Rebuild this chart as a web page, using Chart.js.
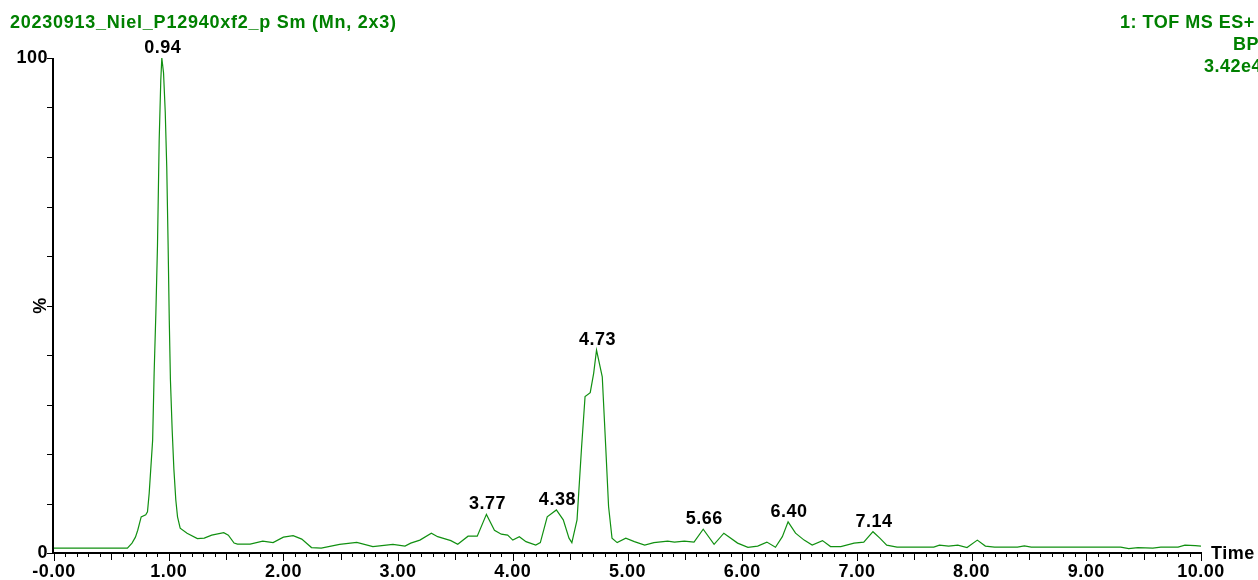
<!DOCTYPE html>
<html>
<head>
<meta charset="utf-8">
<script src="https://cdn.jsdelivr.net/npm/chart.js@4/dist/chart.umd.min.js"></script>
<style>
  html, body { margin: 0; padding: 0; background: #ffffff; }
  #wrap { width: 1258px; height: 580px; }
</style>
</head>
<body>
<div id="wrap"><canvas id="tic" width="1258" height="580"></canvas></div>
<script>
// Retention time (min) of the base-peak chromatogram trace
const retentionTimes = [
  0.00, 0.60, 0.64, 0.68, 0.71, 0.73, 0.76, 0.80, 0.815, 0.83,
  0.86, 0.873, 0.888, 0.902, 0.917, 0.931, 0.94, 0.955, 0.97, 0.983,
  0.995, 1.005, 1.015, 1.03, 1.045, 1.062, 1.077, 1.10, 1.16, 1.25,
  1.31, 1.375, 1.48, 1.52, 1.57, 1.60, 1.71, 1.82, 1.91, 2.00,
  2.085, 2.16, 2.245, 2.33, 2.49, 2.64, 2.78, 2.955, 3.06, 3.11,
  3.19, 3.29, 3.345, 3.46, 3.52, 3.61, 3.69, 3.77, 3.84, 3.90,
  3.955, 4.00, 4.057, 4.115, 4.20, 4.24, 4.30, 4.38, 4.44, 4.49,
  4.515, 4.56, 4.60, 4.63, 4.675, 4.705, 4.73, 4.78, 4.81, 4.835,
  4.865, 4.91, 4.985, 5.06, 5.15, 5.23, 5.35, 5.41, 5.495, 5.58,
  5.66, 5.755, 5.84, 5.96, 6.05, 6.135, 6.215, 6.29, 6.35, 6.40,
  6.465, 6.54, 6.61, 6.70, 6.77, 6.86, 6.975, 7.06, 7.14, 7.20,
  7.26, 7.35, 7.67, 7.72, 7.80, 7.88, 7.96, 8.05, 8.12, 8.20,
  8.40, 8.46, 8.52, 9.30, 9.37, 9.45, 9.58, 9.65, 9.80, 9.86,
  9.95, 10.00
];

// Relative intensity (%) at each retention time
const relIntensity = [
  1.0, 1.0, 1.0, 2.0, 3.2, 4.6, 7.3, 7.7, 8.3, 12.1,
  22.8, 36.3, 48.4, 61.9, 83.4, 95.5, 100, 97.0, 89.0, 78.0,
  62.0, 47.0, 35.0, 25.0, 17.0, 10.7, 7.3, 5.0, 4.0, 2.9,
  3.0, 3.6, 4.1, 3.6, 2.0, 1.8, 1.8, 2.4, 2.1, 3.2,
  3.5, 2.8, 1.1, 1.0, 1.75, 2.15, 1.3, 1.75, 1.4, 2.0,
  2.6, 4.0, 3.3, 2.5, 1.75, 3.4, 3.4, 7.8, 4.6, 3.8,
  3.6, 2.6, 3.3, 2.3, 1.6, 2.1, 7.3, 8.7, 6.7, 3.0,
  2.1, 6.7, 21.5, 31.6, 32.4, 36.3, 41.0, 35.6, 21.5, 9.4,
  3.0, 2.1, 3.0, 2.3, 1.6, 2.1, 2.4, 2.2, 2.4, 2.2,
  4.8, 1.75, 4.0, 2.0, 1.15, 1.4, 2.2, 1.15, 3.3, 6.3,
  4.0, 2.6, 1.6, 2.5, 1.3, 1.3, 2.0, 2.2, 4.3, 3.0,
  1.6, 1.2, 1.2, 1.6, 1.4, 1.6, 1.1, 2.6, 1.4, 1.2,
  1.2, 1.45, 1.2, 1.2, 0.9, 1.1, 1.0, 1.2, 1.2, 1.6,
  1.5, 1.4
];

// Annotated peak apexes (min)
const peakTimes = [0.94, 3.77, 4.38, 4.73, 5.66, 6.40, 7.14];

// Axis tick values and labels
const xTickValues = [0, 1, 2, 3, 4, 5, 6, 7, 8, 9, 10];
const xTickLabels = ['-0.00', '1.00', '2.00', '3.00', '4.00', '5.00', '6.00', '7.00', '8.00', '9.00', '10.00'];
const yTickValues = [0, 100];
const yTickLabels = ['0', '100'];
const yAxisTitle = '%';
const xAxisTitle = 'Time';

// Header texts
const headerLeft = '20230913_Niel_P12940xf2_p Sm (Mn, 2x3)';
const headerRight = ['1: TOF MS ES+', 'BPI', '3.42e4'];

const GREEN = '#008000';
const TRACE = '#119011';
const FONT = 'bold 18px "Liberation Sans", Arial, sans-serif';

function setText(ctx, color, spacing) {
  ctx.font = FONT;
  ctx.fillStyle = color;
  if ('letterSpacing' in ctx) ctx.letterSpacing = spacing || '0.5px';
}

const background = {
  id: 'background',
  beforeDraw(chart) {
    const ctx = chart.ctx;
    ctx.save();
    ctx.fillStyle = '#ffffff';
    ctx.fillRect(0, 0, chart.width, chart.height);
    ctx.restore();
  }
};

const axes = {
  id: 'axes',
  afterDraw(chart) {
    const ctx = chart.ctx;
    const xs = chart.scales.x, ys = chart.scales.y;
    const x0 = xs.getPixelForValue(0) - 1;
    const y0 = ys.getPixelForValue(0);
    const yTop = ys.getPixelForValue(100);
    const xEnd = xs.getPixelForValue(10);
    ctx.save();
    ctx.strokeStyle = '#000000';

    // axis lines
    ctx.lineWidth = 2;
    ctx.beginPath();
    ctx.moveTo(x0, yTop);
    ctx.lineTo(x0, y0 + 1);
    ctx.moveTo(x0 - 1, y0);
    ctx.lineTo(xEnd + 1, y0);
    ctx.stroke();

    // y ticks every 10 %
    ctx.lineWidth = 1;
    ctx.beginPath();
    for (let v = 0; v <= 100; v += 10) {
      const py = Math.round(ys.getPixelForValue(v)) + 0.5;
      ctx.moveTo(x0 - 6, py);
      ctx.lineTo(x0, py);
    }
    // x ticks every 0.1 min
    for (let i = 0; i <= 100; i++) {
      const px = Math.round(xs.getPixelForValue(i / 10)) + 0.5;
      const len = (i % 10 === 0) ? 8 : (i % 5 === 0 ? 7 : 4);
      ctx.moveTo(px, y0);
      ctx.lineTo(px, y0 + len);
    }
    ctx.stroke();

    // tick labels
    setText(ctx, '#000000');
    ctx.textBaseline = 'middle';
    ctx.textAlign = 'center';
    xTickValues.forEach((v, i) => {
      ctx.fillText(xTickLabels[i], xs.getPixelForValue(v), y0 + 19);
    });
    ctx.textAlign = 'right';
    yTickValues.forEach((v, i) => {
      ctx.fillText(yTickLabels[i], x0 - 5, ys.getPixelForValue(v));
    });

    // axis titles
    ctx.textAlign = 'left';
    ctx.fillText(xAxisTitle, xEnd + 10, y0 + 1);
    ctx.save();
    ctx.translate(x0 - 12, ys.getPixelForValue(50));
    ctx.rotate(-Math.PI / 2);
    ctx.textAlign = 'center';
    ctx.fillText(yAxisTitle, 0, 0);
    ctx.restore();

    // peak annotations
    ctx.textAlign = 'center';
    ctx.textBaseline = 'alphabetic';
    peakTimes.forEach(t => {
      const idx = retentionTimes.indexOf(t);
      const px = xs.getPixelForValue(t);
      const py = ys.getPixelForValue(relIntensity[idx]);
      ctx.fillText(t.toFixed(2), px + 1, py - 5);
    });

    // header
    setText(ctx, GREEN, '0.75px');
    ctx.textAlign = 'left';
    ctx.textBaseline = 'middle';
    ctx.fillText(headerLeft, 10, 23);
    setText(ctx, GREEN);
    ctx.fillText(headerRight[0], 1120, 23);
    ctx.fillText(headerRight[1], 1233, 45);
    ctx.fillText(headerRight[2], 1204, 67);
    ctx.restore();
  }
};

new Chart(document.getElementById('tic'), {
  type: 'line',
  data: {
    datasets: [{
      data: retentionTimes.map((t, i) => ({ x: t, y: relIntensity[i] })),
      borderColor: TRACE,
      borderWidth: 1.2,
      pointRadius: 0,
      tension: 0,
      fill: false
    }]
  },
  options: {
    responsive: false,
    animation: false,
    devicePixelRatio: 1,
    layout: { padding: { left: 54, right: 57, top: 58, bottom: 27 } },
    scales: {
      x: { type: 'linear', min: 0, max: 10, display: false },
      y: { type: 'linear', min: 0, max: 100, display: false }
    },
    plugins: { legend: { display: false }, tooltip: { enabled: false } }
  },
  plugins: [background, axes]
});
</script>
</body>
</html>
